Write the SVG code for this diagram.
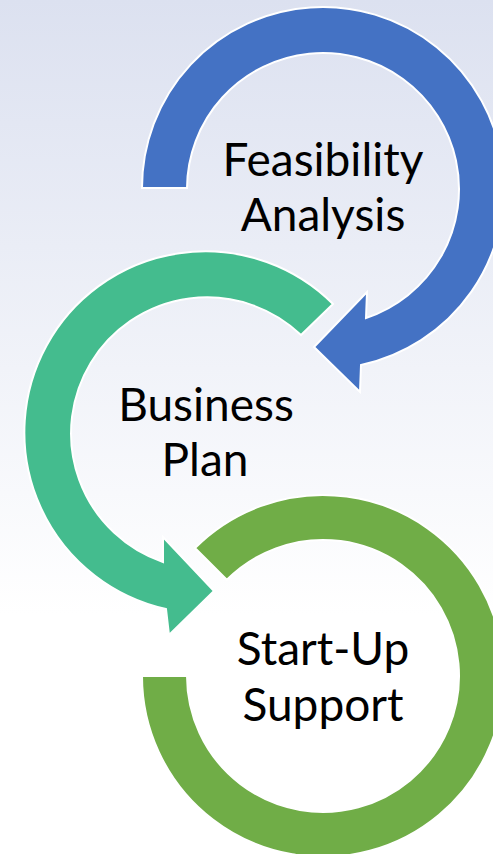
<svg xmlns="http://www.w3.org/2000/svg" width="493" height="854" viewBox="0 0 493 854">
  <defs>
    <linearGradient id="bg" x1="0" y1="0" x2="0" y2="1">
      <stop offset="0" stop-color="#dce1f0"/>
      <stop offset="0.72" stop-color="#ffffff"/>
      <stop offset="1" stop-color="#ffffff"/>
    </linearGradient>
    <style>
      .arc { stroke: #ffffff; stroke-width: 2; stroke-linejoin: miter; }
      .lbl { font-family: Lato, "Liberation Sans", sans-serif; font-size: 46px; fill: #000000; text-anchor: middle; }
    </style>
  </defs>
  <rect x="0" y="0" width="493" height="854" fill="url(#bg)"/>

  <g id="feasibility-analysis">
    <path class="arc" fill="#4472c4" d="M 142,188 A 181 181 0 1 1 361,365 L 360,392 L 314,347 L 367,292 L 366,318 A 136 136 0 1 0 187,188 Z"/>
    <text class="lbl" x="323" y="176">Feasibility</text>
    <text class="lbl" x="323" y="231">Analysis</text>
  </g>

  <g id="business-plan">
    <path class="arc" fill="#44bc8e" d="M 333,304 A 181 181 0 1 0 166,609 L 169,635 L 214,591 L 163,537 L 163,562 A 136 136 0 1 1 301,335 Z"/>
    <text class="lbl" x="206" y="421">Business</text>
    <text class="lbl" x="205" y="476">Plan</text>
  </g>

  <g id="start-up-support">
    <path class="arc" fill="#70ad47" d="M 195,548 A 181 181 0 1 1 142,676 L 187,676 A 136 136 0 1 0 226.8,579.8 Z"/>
    <text class="lbl" x="323" y="665">Start-Up</text>
    <text class="lbl" x="323" y="721">Support</text>
  </g>
</svg>
